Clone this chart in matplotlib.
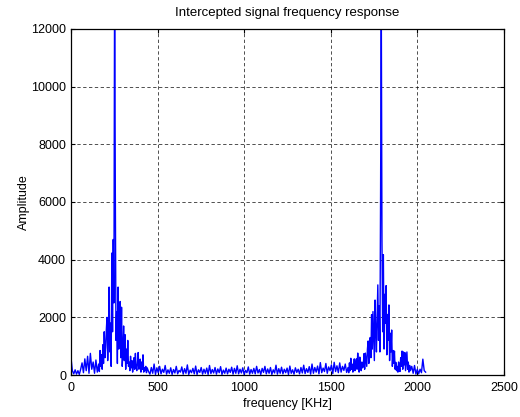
import numpy as np
import matplotlib
matplotlib.use("Agg")
import matplotlib.pyplot as plt

plt.rcParams['font.family'] = ['Liberation Sans', 'DejaVu Sans']

# amplitude, split into pieces with their own bin step [KHz]
# 0 - 152 KHz, every 8 KHz
amp_a = [600, 150, 40, 180, 30, 150, 20, 200, 420, 80, 560, 150, 650, 60, 750, 200,
         450, 60, 520, 100]
# 160 - 440 KHz, every 4 KHz (first peak)
amp_b = [380, 120, 850, 300, 700, 200, 1050, 400, 1500, 600, 950, 1550, 2000, 500, 1300, 3050,
         800, 1800, 300, 4230, 1500, 4700, 2500, 14000, 6400, 1200, 2200, 400, 3050, 900, 1500, 2550,
         600, 2350, 300, 800, 1700, 500, 1400, 200, 900, 400, 1200, 300, 450, 150, 650, 250,
         500, 100, 300, 600, 200, 750, 300, 150, 400, 780, 200, 250, 550, 100, 450, 200,
         700, 100, 250, 150, 300, 80, 250]
# 448 - 1592 KHz, every 8 KHz (noise floor)
amp_c = [120, 30, 260, 60, 380, 20, 250, 80, 300, 40, 200, 90, 330, 30, 180, 60,
         250, 20, 190, 70, 300, 40, 160, 100, 280, 30, 220, 60, 350, 20, 170, 80,
         230, 40, 310, 20, 180, 90, 260, 30, 200, 60, 240, 20, 330, 50, 190, 70,
         260, 30, 210, 80, 290, 20, 170, 60, 240, 40, 200, 90, 270, 30, 230, 60,
         320, 40, 200, 70, 250, 20, 160, 80, 280, 30, 190, 60, 230, 40, 300, 70,
         190, 20, 230, 90, 300, 40, 210, 60, 260, 20, 180, 70, 340, 30, 220, 60,
         270, 40, 200, 80, 240, 20, 310, 60, 180, 30, 250, 90, 200, 40, 260, 70,
         340, 50, 220, 90, 290, 30, 380, 60, 260, 100, 310, 40, 430, 80, 240, 120,
         400, 60, 280, 150, 350, 50, 440, 120, 320, 80, 420, 100, 300, 160, 380, 90]
# 1600 - 1960 KHz, every 4 KHz (second peak)
amp_d = [260, 80, 420, 150, 580, 200, 380, 100, 300, 560, 150, 420, 560, 200, 760, 350,
         100, 620, 300, 150, 450, 250, 300, 740, 200, 760, 520, 300, 900, 1180, 400, 700,
         1300, 600, 2090, 900, 2200, 1400, 500, 2600, 1600, 800, 2000, 3125, 1200, 2400, 800, 6330,
         13000, 4630, 1500, 4170, 900, 2800, 1800, 3100, 700, 2100, 1200, 2430, 500, 1450, 800, 1560,
         300, 850, 400, 830, 200, 440, 150, 300, 100, 450, 250, 120, 600, 300, 830, 200,
         800, 350, 780, 150, 500, 800, 200, 450, 100, 330, 150]
# 1968 - 2048 KHz, every 8 KHz
amp_e = [300, 60, 330, 30, 200, 40, 200, 80, 550, 150, 100]

pieces = [(0, 8, amp_a), (160, 4, amp_b), (448, 8, amp_c), (1600, 4, amp_d), (1968, 8, amp_e)]
freq = np.concatenate([np.arange(len(a)) * st + f0 for f0, st, a in pieces])
amp = np.concatenate([a for _, _, a in pieces])

fig = plt.figure(figsize=(5.2, 4.17), dpi=100)
ax = fig.add_axes([0.1365, 0.1007, 0.8325, 0.8298])

ax.plot(freq, amp, color='blue', lw=1.0)

ax.set_xlim(0, 2500)
ax.set_ylim(0, 12000)
ax.set_xticks([0, 500, 1000, 1500, 2000, 2500])
ax.set_yticks([0, 2000, 4000, 6000, 8000, 10000, 12000])
ax.grid(True, color='black', linestyle=(0, (4, 3)), linewidth=0.6, alpha=0.8)
ax.tick_params(direction='in', top=True, right=True, labelsize=9, length=3)
ax.tick_params(axis='x', pad=5)
for s in ax.spines.values():
    s.set_linewidth(0.9)

ax.set_title('Intercepted signal frequency response', fontsize=9.5, pad=9)
ax.set_xlabel('frequency [KHz]', fontsize=9, labelpad=3)
ax.set_ylabel('Amplitude', fontsize=9, labelpad=1)

fig.savefig('out.png', dpi=100)
